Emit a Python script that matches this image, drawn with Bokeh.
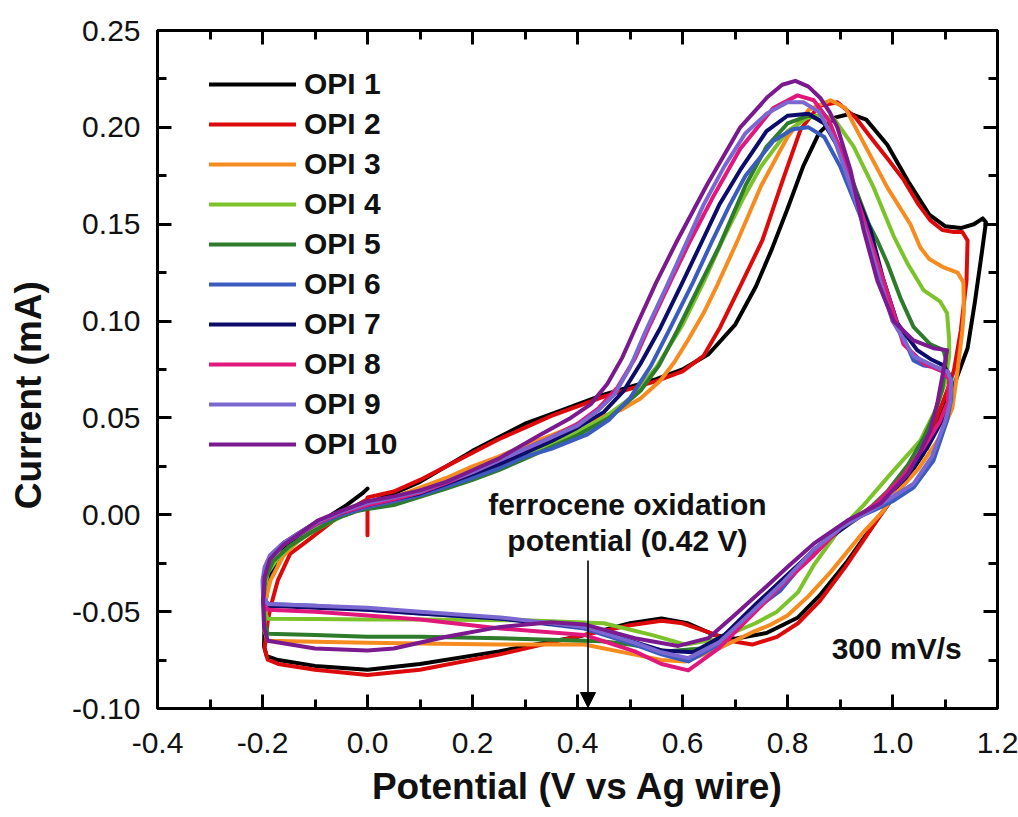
from bokeh.plotting import figure
from bokeh.models import (LinearAxis, FixedTicker, PrintfTickFormatter, Legend, LegendItem,
                          Range1d, Label, Arrow, NormalHead)
from bokeh.embed import file_html
from bokeh.resources import INLINE

FONT = "Liberation Sans"

# Cyclic voltammograms, potential (V vs Ag wire) and current (mA)
names = ["OPI 1", "OPI 2", "OPI 3", "OPI 4", "OPI 5",
         "OPI 6", "OPI 7", "OPI 8", "OPI 9", "OPI 10"]
colors = ["#000000", "#dc0a0a", "#f68b1f", "#7cc22a", "#2e7b2b",
          "#3b5cbf", "#0c0c6a", "#e0187c", "#7a68d0", "#7a1a8e"]

opi1_v = [0.0, 0.05, 0.1, 0.15, 0.2, 0.25, 0.3, 0.35, 0.4, 0.45, 0.5, 0.55, 0.6, 0.65, 0.7, 0.74,
          0.77, 0.8, 0.83, 0.86, 0.89, 0.92, 0.95, 0.99, 1.03, 1.07, 1.10, 1.13, 1.155, 1.172, 1.178,
          1.17, 1.157, 1.143, 1.116, 1.085, 1.059, 1.029, 0.977, 0.914, 0.86, 0.82, 0.76, 0.70,
          0.66, 0.61, 0.56, 0.50, 0.40, 0.25, 0.10, 0.0, -0.1, -0.17, -0.192, -0.197, -0.196,
          -0.19, -0.175, -0.15, -0.12, -0.08, -0.04, -0.01, 0.0]
opi1_i = [0.006, 0.011, 0.017, 0.025, 0.033, 0.040, 0.047, 0.052, 0.057, 0.062, 0.066, 0.070,
          0.075, 0.083, 0.098, 0.118, 0.137, 0.158, 0.180, 0.197, 0.205, 0.207, 0.204, 0.191,
          0.172, 0.155, 0.149, 0.148, 0.150, 0.153, 0.151, 0.135, 0.110, 0.086, 0.066, 0.0487,
          0.0316, 0.0193, 0.0, -0.024, -0.042, -0.053, -0.061, -0.064, -0.062, -0.056, -0.0535,
          -0.056, -0.063, -0.0705, -0.077, -0.080, -0.078, -0.075, -0.073, -0.068, -0.05, -0.036,
          -0.024, -0.015, -0.009, -0.002, 0.005, 0.011, 0.0135]

opi2_v = [0.0, 0.0, 0.05, 0.1, 0.15, 0.2, 0.25, 0.3, 0.35, 0.4, 0.45, 0.5, 0.55, 0.6, 0.64,
          0.672, 0.71, 0.752, 0.79, 0.825, 0.86, 0.895, 0.93, 0.958, 0.99, 1.021, 1.05, 1.072,
          1.095, 1.117, 1.133, 1.143, 1.141, 1.13, 1.117, 1.104, 1.08, 1.05, 1.02, 0.97, 0.91,
          0.86, 0.82, 0.78, 0.733, 0.69, 0.649, 0.6, 0.56, 0.5, 0.413, 0.25, 0.1, 0.0, -0.1, -0.17,
          -0.19, -0.196, -0.19, -0.185, -0.171, -0.147, -0.114, -0.065, -0.02, 0.0]
opi2_i = [-0.0105, 0.009, 0.012, 0.018, 0.025, 0.032, 0.039, 0.045, 0.051, 0.056, 0.061,
          0.065, 0.069, 0.074, 0.082, 0.097, 0.118, 0.1416, 0.172, 0.199, 0.211, 0.213, 0.205,
          0.195, 0.184, 0.173, 0.160, 0.152, 0.147, 0.146, 0.146, 0.1416, 0.121, 0.095, 0.0745,
          0.064, 0.047, 0.030, 0.016, -0.003, -0.027, -0.045, -0.056, -0.063, -0.067, -0.065,
          -0.0606, -0.056, -0.0547, -0.057, -0.062, -0.0722, -0.080, -0.0827, -0.080, -0.077,
          -0.0748, -0.069, -0.055, -0.048, -0.034, -0.020, -0.0133, -0.003, 0.005, 0.008]

opi3_v = [0.0, 0.05, 0.1, 0.15, 0.2, 0.25, 0.3, 0.35, 0.387, 0.43, 0.482, 0.52, 0.558, 0.585, 0.61,
          0.64, 0.667, 0.705, 0.75, 0.80, 0.84, 0.882, 0.91, 0.945, 0.99, 1.034, 1.053, 1.07, 1.095,
          1.124, 1.135, 1.136, 1.133, 1.124, 1.114, 1.09, 1.05, 1.0, 0.983, 0.945, 0.882, 0.84,
          0.80, 0.766, 0.733, 0.669, 0.606, 0.56, 0.509, 0.413, 0.25, 0.1, 0.0, -0.1, -0.19,
          -0.196, -0.195, -0.185, -0.16, -0.13, -0.09, -0.045, 0.0]
opi3_i = [0.005, 0.009, 0.014, 0.019, 0.025, 0.030, 0.036, 0.041, 0.045, 0.049, 0.054, 0.060,
          0.0693, 0.079, 0.090, 0.104, 0.119, 0.1416, 0.170, 0.195, 0.209, 0.214, 0.210, 0.192,
          0.169, 0.150, 0.138, 0.132, 0.128, 0.125, 0.120, 0.105, 0.095, 0.0745, 0.055, 0.040,
          0.024, 0.009, 0.0022, -0.0088, -0.0296, -0.042, -0.052, -0.057, -0.0606, -0.069,
          -0.0757, -0.075, -0.0722, -0.067, -0.067, -0.0665, -0.066, -0.0655, -0.065, -0.06,
          -0.045, -0.034, -0.021, -0.013, -0.005, 0.001, 0.005]

opi4_v = [0.0, 0.05, 0.1, 0.15, 0.2, 0.25, 0.3, 0.35, 0.4, 0.45, 0.5, 0.55, 0.6, 0.64, 0.676, 0.715,
          0.75, 0.80, 0.838, 0.865, 0.89, 0.926, 0.964, 1.002, 1.028, 1.059, 1.091, 1.104, 1.108,
          1.108, 1.10, 1.08, 1.053, 0.996, 0.945, 0.895, 0.85, 0.82, 0.78, 0.739, 0.669, 0.606,
          0.541, 0.45, 0.3, 0.1, 0.0, -0.1, -0.19, -0.196, -0.197, -0.19, -0.17, -0.14, -0.1,
          -0.05, 0.0]
opi4_i = [0.004, 0.006, 0.0095, 0.014, 0.019, 0.025, 0.031, 0.037, 0.043, 0.050, 0.060, 0.076,
          0.098, 0.120, 0.1416, 0.163, 0.180, 0.198, 0.205, 0.2065, 0.204, 0.190, 0.169, 0.144,
          0.130, 0.116, 0.110, 0.104, 0.090, 0.082, 0.068, 0.053, 0.0383, 0.021, 0.005, -0.009,
          -0.026, -0.040, -0.050, -0.056, -0.064, -0.067, -0.062, -0.056, -0.0545, -0.054, -0.054,
          -0.0538, -0.0537, -0.050, -0.040, -0.030, -0.022, -0.015, -0.008, -0.001, 0.004]

opi5_v = [0.0, 0.05, 0.1, 0.15, 0.2, 0.25, 0.3, 0.35, 0.4, 0.46, 0.52, 0.555, 0.59, 0.63, 0.669,
          0.72, 0.76, 0.80, 0.84, 0.87, 0.9, 0.93, 0.955, 0.971, 0.99, 1.015, 1.04, 1.072, 1.097,
          1.102, 1.095, 1.08, 1.06, 1.03, 0.99, 0.945, 0.9, 0.85, 0.80, 0.764, 0.70, 0.636, 0.573,
          0.5, 0.446, 0.253, 0.1, 0.0, -0.1, -0.19, -0.196, -0.198, -0.195, -0.18, -0.15, -0.11,
          -0.06, -0.02, 0.0]
opi5_i = [0.003, 0.005, 0.0092, 0.0135, 0.018, 0.023, 0.029, 0.035, 0.041, 0.050, 0.064, 0.077,
          0.095, 0.117, 0.138, 0.170, 0.190, 0.202, 0.206, 0.203, 0.190, 0.168, 0.150, 0.1416,
          0.130, 0.112, 0.097, 0.088, 0.085, 0.080, 0.065, 0.052, 0.040, 0.026, 0.012, 0.0004,
          -0.008, -0.018, -0.032, -0.043, -0.0587, -0.069, -0.0705, -0.067, -0.0653, -0.0637,
          -0.063, -0.063, -0.062, -0.0614, -0.056, -0.045, -0.033, -0.024, -0.0165, -0.0095,
          -0.002, 0.002, 0.003]

opi6_v = [0.0, 0.05, 0.1, 0.15, 0.2, 0.25, 0.3, 0.35, 0.419, 0.46, 0.501, 0.54, 0.577, 0.62, 0.657,
          0.69, 0.72, 0.773, 0.81, 0.84, 0.87, 0.9, 0.93, 0.958, 0.983, 1.009, 1.04, 1.06, 1.085,
          1.105, 1.112, 1.112, 1.104, 1.078, 1.04, 1.0, 0.964, 0.92, 0.882, 0.83, 0.787, 0.733,
          0.669, 0.611, 0.56, 0.509, 0.413, 0.253, 0.1, 0.0, -0.1, -0.19, -0.198, -0.199, -0.195,
          -0.185, -0.16, -0.128, -0.095, -0.05, 0.0]
opi6_i = [0.004, 0.007, 0.010, 0.0145, 0.019, 0.024, 0.030, 0.034, 0.0415, 0.049, 0.0606, 0.077,
          0.0966, 0.120, 0.1416, 0.160, 0.175, 0.193, 0.199, 0.200, 0.195, 0.180, 0.160, 0.1416,
          0.121, 0.099, 0.0797, 0.077, 0.076, 0.074, 0.070, 0.060, 0.0487, 0.028, 0.014, 0.007,
          0.0022, -0.003, -0.0098, -0.025, -0.039, -0.050, -0.067, -0.0757, -0.072, -0.067,
          -0.0587, -0.0535, -0.051, -0.049, -0.047, -0.046, -0.043, -0.035, -0.028, -0.022,
          -0.0155, -0.010, -0.0045, 0.0, 0.004]

opi7_v = [0.0, 0.05, 0.1, 0.15, 0.2, 0.25, 0.3, 0.35, 0.4, 0.45, 0.488, 0.52, 0.558, 0.6, 0.638,
          0.67, 0.71, 0.76, 0.80, 0.84, 0.87, 0.9, 0.93, 0.958, 0.983, 1.009, 1.047, 1.075, 1.098,
          1.11, 1.108, 1.095, 1.065, 1.025, 0.975, 0.92, 0.86, 0.80, 0.74, 0.68, 0.62, 0.56, 0.5,
          0.413, 0.25, 0.1, 0.0, -0.1, -0.19, -0.198, -0.199, -0.195, -0.185, -0.16, -0.128,
          -0.095, -0.05, 0.0]
opi7_i = [0.005, 0.008, 0.011, 0.016, 0.021, 0.026, 0.032, 0.038, 0.045, 0.053, 0.064, 0.078,
          0.0966, 0.120, 0.1416, 0.160, 0.178, 0.198, 0.206, 0.207, 0.202, 0.188, 0.166, 0.147,
          0.121, 0.099, 0.085, 0.080, 0.077, 0.071, 0.060, 0.049, 0.034, 0.019, 0.006, -0.004,
          -0.016, -0.031, -0.046, -0.062, -0.071, -0.070, -0.065, -0.058, -0.0535, -0.051,
          -0.049, -0.048, -0.047, -0.044, -0.035, -0.028, -0.021, -0.0145, -0.009, -0.0035,
          0.001, 0.005]

opi8_v = [0.0, 0.05, 0.1, 0.15, 0.2, 0.25, 0.3, 0.35, 0.4, 0.44, 0.476, 0.51, 0.539, 0.58, 0.615,
          0.66, 0.71, 0.773, 0.819, 0.85, 0.88, 0.91, 0.94, 0.96, 0.99, 1.021, 1.06, 1.095, 1.108,
          1.105, 1.09, 1.06, 1.02, 0.97, 0.9, 0.85, 0.796, 0.733, 0.669, 0.611, 0.56, 0.509, 0.413,
          0.253, 0.1, 0.0, -0.1, -0.19, -0.197, -0.199, -0.195, -0.185, -0.16, -0.128, -0.095,
          -0.05, 0.0]
opi8_i = [0.005, 0.008, 0.0115, 0.0165, 0.022, 0.028, 0.034, 0.040, 0.047, 0.055, 0.0657, 0.081,
          0.0986, 0.122, 0.1416, 0.165, 0.189, 0.210, 0.2165, 0.214, 0.203, 0.182, 0.157, 0.140,
          0.115, 0.088, 0.078, 0.074, 0.070, 0.058, 0.048, 0.035, 0.020, 0.006, -0.007, -0.021,
          -0.0345, -0.0516, -0.069, -0.0803, -0.077, -0.0705, -0.062, -0.0587, -0.054, -0.052,
          -0.050, -0.049, -0.046, -0.037, -0.029, -0.022, -0.0155, -0.0095, -0.004, 0.001, 0.005]

opi9_v = [0.0, 0.05, 0.1, 0.15, 0.2, 0.25, 0.3, 0.35, 0.4, 0.44, 0.47, 0.50, 0.53, 0.57, 0.60,
          0.64, 0.68, 0.72, 0.76, 0.80, 0.83, 0.86, 0.89, 0.92, 0.95, 0.975, 1.0, 1.04, 1.085,
          1.105, 1.112, 1.11, 1.10, 1.075, 1.04, 0.97, 0.9, 0.85, 0.787, 0.733, 0.669, 0.611,
          0.56, 0.509, 0.413, 0.253, 0.1, 0.0, -0.1, -0.19, -0.199, -0.2, -0.196, -0.186, -0.16,
          -0.128, -0.095, -0.05, 0.0]
opi9_i = [0.006, 0.009, 0.012, 0.017, 0.022, 0.028, 0.034, 0.040, 0.046, 0.054, 0.062, 0.076,
          0.095, 0.118, 0.136, 0.160, 0.180, 0.197, 0.207, 0.213, 0.213, 0.208, 0.193, 0.170,
          0.145, 0.122, 0.100, 0.082, 0.076, 0.074, 0.069, 0.058, 0.048, 0.030, 0.016, 0.004,
          -0.007, -0.018, -0.036, -0.050, -0.066, -0.074, -0.071, -0.066, -0.058, -0.053, -0.050,
          -0.048, -0.047, -0.046, -0.042, -0.034, -0.027, -0.021, -0.0145, -0.009, -0.0035,
          0.0015, 0.006]

opi10_v = [0.0, 0.05, 0.1, 0.15, 0.2, 0.25, 0.33, 0.387, 0.425, 0.457, 0.485, 0.514, 0.55, 0.59,
           0.648, 0.71, 0.762, 0.79, 0.815, 0.84, 0.863, 0.88, 0.895, 0.92, 0.945, 0.971, 1.002,
           1.04, 1.078, 1.104, 1.097, 1.085, 1.072, 1.05, 1.029, 0.977, 0.914, 0.85, 0.80, 0.764,
           0.70, 0.649, 0.592, 0.509, 0.413, 0.349, 0.25, 0.15, 0.05, 0.0, -0.1, -0.19, -0.197,
           -0.199, -0.196, -0.186, -0.16, -0.128, -0.095, -0.05, 0.0]
opi10_i = [0.007, 0.0095, 0.0126, 0.017, 0.023, 0.029, 0.0415, 0.050, 0.057, 0.0677, 0.081,
           0.0986, 0.120, 0.1416, 0.171, 0.200, 0.2157, 0.222, 0.224, 0.221, 0.215, 0.208, 0.200,
           0.178, 0.147, 0.121, 0.100, 0.090, 0.086, 0.085, 0.0745, 0.057, 0.0435, 0.031, 0.021,
           0.0058, -0.003, -0.0149, -0.027, -0.036, -0.0516, -0.0637, -0.0677, -0.0637, -0.0566,
           -0.0555, -0.058, -0.063, -0.069, -0.070, -0.069, -0.065, -0.058, -0.045, -0.032,
           -0.023, -0.0155, -0.0095, -0.003, 0.002, 0.007]

potentials = [opi1_v, opi2_v, opi3_v, opi4_v, opi5_v, opi6_v, opi7_v, opi8_v, opi9_v, opi10_v]
currents = [opi1_i, opi2_i, opi3_i, opi4_i, opi5_i, opi6_i, opi7_i, opi8_i, opi9_i, opi10_i]

x_ticks = [-0.4, -0.2, 0.0, 0.2, 0.4, 0.6, 0.8, 1.0, 1.2]
x_minor = [-0.3, -0.1, 0.1, 0.3, 0.5, 0.7, 0.9, 1.1]
y_ticks = [-0.10, -0.05, 0.00, 0.05, 0.10, 0.15, 0.20, 0.25]
y_minor = [-0.075, -0.025, 0.025, 0.075, 0.125, 0.175, 0.225]

ferrocene_potential = 0.42

NBSP = "\u00a0"
p = figure(frame_width=840, frame_height=678,
           x_range=Range1d(-0.4, 1.2), y_range=Range1d(-0.10, 0.25),
           min_border_left=157, min_border_right=21, min_border_top=30, min_border_bottom=109,
           output_backend="svg", toolbar_location=None,
           x_axis_label="Potential (V vs Ag wire)",
           y_axis_label="Current (mA)" + NBSP * 5)
p.xgrid.visible = False
p.ygrid.visible = False
p.outline_line_color = "black"
p.outline_line_width = 3
p.background_fill_color = "white"
p.border_fill_color = "white"

xt = FixedTicker(ticks=x_ticks, minor_ticks=x_minor)
yt = FixedTicker(ticks=y_ticks, minor_ticks=y_minor)


def style_axis(ax, show_labels):
    ax.axis_line_width = 3
    ax.axis_line_color = "black"
    ax.major_tick_in = 14
    ax.major_tick_out = 0
    ax.minor_tick_in = 9
    ax.minor_tick_out = 0
    ax.major_tick_line_width = 3
    ax.minor_tick_line_width = 3
    ax.major_tick_line_color = "black"
    ax.minor_tick_line_color = "black"
    if show_labels:
        ax.major_label_text_font = FONT
        ax.major_label_text_font_size = "30px"
        ax.major_label_text_color = "#111111"
        ax.axis_label_text_font = FONT
        ax.axis_label_text_font_size = "37px"
        ax.axis_label_text_font_style = "bold"
        ax.axis_label_text_color = "#111111"
    else:
        # mirrored tick marks only, no numbers on the top and right sides
        ax.major_label_text_color = None
        ax.major_label_text_font_size = "1px"
        ax.major_label_standoff = 0


xa = p.xaxis[0]
xa.ticker = xt
xa.formatter = PrintfTickFormatter(format="%.1f")
style_axis(xa, True)
xa.major_label_standoff = 24
xa.axis_label_standoff = 10

ya = p.yaxis[0]
ya.ticker = yt
ya.formatter = PrintfTickFormatter(format="%.2f")
style_axis(ya, True)
ya.major_label_standoff = 17
ya.axis_label_standoff = 20

top = LinearAxis(ticker=xt)
style_axis(top, False)
p.add_layout(top, "above")
right = LinearAxis(ticker=yt)
style_axis(right, False)
p.add_layout(right, "right")

items = []
for name, col, v, i in zip(names, colors, potentials, currents):
    r = p.line(v, i, line_color=col, line_width=4, line_join="round", line_cap="round")
    items.append(LegendItem(label=name, renderers=[r]))

legend = Legend(items=items, location=(52, 247), padding=0, margin=0,
                border_line_color=None, background_fill_alpha=0,
                glyph_width=87, glyph_height=30, label_height=30, spacing=6,
                label_standoff=8, label_text_font=FONT, label_text_font_size="30px",
                label_text_font_style="bold", label_text_color="#111111")
p.add_layout(legend)

for txt, yv in [("ferrocene oxidation", 0.0055), ("potential (0.42 V)", -0.0132)]:
    p.add_layout(Label(x=0.495, y=yv, text=txt, text_align="center",
                       text_baseline="alphabetic", text_font=FONT, text_font_size="30px",
                       text_font_style="bold", text_color="#111111"))

p.add_layout(Arrow(end=NormalHead(size=15, fill_color="black", line_color="black", line_width=1),
                   x_start=ferrocene_potential, y_start=-0.0236,
                   x_end=ferrocene_potential, y_end=-0.0995,
                   line_color="black", line_width=1.6))

p.add_layout(Label(x=1.008, y=-0.069, text="300 mV/s", text_align="center",
                   text_baseline="middle", text_font=FONT, text_font_size="30px",
                   text_font_style="bold", text_color="#111111"))

open("out.html", "w").write(file_html(p, INLINE))
